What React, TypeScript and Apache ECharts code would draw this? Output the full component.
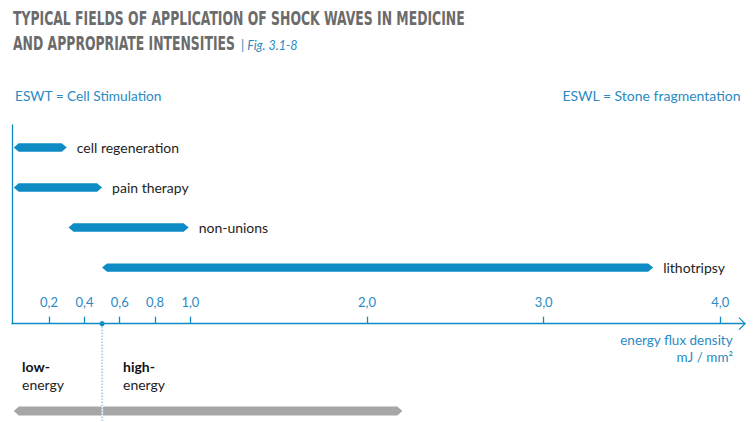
import React, { useEffect, useRef } from 'react';
import * as echarts from 'echarts';

const applications = ['cell regeneration', 'pain therapy', 'non-unions', 'lithotripsy'];
const rangeStart = [0.0, 0.0, 0.31, 0.5];
const rangeEnd = [0.3, 0.5, 0.99, 3.62];
const tickValues = [0.2, 0.4, 0.6, 0.8, 1.0, 2.0, 3.0, 4.0];
const bandNames = ['low', 'high'];
const bandStart = [0.0, 0.5];
const bandEnd = [0.5, 2.2];
const thresholdValue = [0.5];

const X_MIN = -0.01;
const X_MAX = 4.14;
const Y_MIN = -0.56;
const Y_MAX = 4.4;

const BLUE = '#0d8bc5';
const TEXT_BLUE = '#2a8ac2';
const GREY = '#a6a6a6';
const TITLE_GREY = '#6b6b6b';
const DARK = '#1e1e1e';
const SANS = 'Lato, "Open Sans", "Noto Sans", sans-serif';
const COND = '"DejaVu Sans Condensed", "Liberation Sans Narrow", sans-serif';

function hexPoints(x1: number, x2: number, cy: number, h: number, p: number, lp: boolean, rp: boolean) {
  const pts: number[][] = [];
  if (lp) pts.push([x1, cy]);
  pts.push([lp ? x1 + p : x1, cy - h]);
  pts.push([rp ? x2 - p : x2, cy - h]);
  if (rp) pts.push([x2, cy]);
  pts.push([rp ? x2 - p : x2, cy + h]);
  pts.push([lp ? x1 + p : x1, cy + h]);
  return pts;
}

export default function App() {
  const ref = useRef<HTMLDivElement>(null);
  useEffect(() => {
    document.body.style.margin = '0';
    const chart = echarts.init(ref.current!, null, { renderer: 'svg' });
    const option: any = {
      animation: false,
      grid: [
        { left: 12, width: 733, top: 125, height: 198.7 },
        { left: 12, width: 733, top: 405, height: 12 },
      ],
      xAxis: [
        {
          gridIndex: 0,
          type: 'value',
          min: X_MIN,
          max: X_MAX,
          splitLine: { show: false },
          axisLine: { show: true, onZero: false, lineStyle: { color: BLUE, width: 1.3 } },
          axisTick: {
            show: true,
            inside: true,
            length: 7,
            customValues: tickValues,
            lineStyle: { color: BLUE, width: 1.3 },
          },
          axisLabel: {
            show: true,
            inside: true,
            margin: 15,
            customValues: tickValues,
            color: TEXT_BLUE,
            fontSize: 13,
            fontFamily: SANS,
            formatter: (v: number) => v.toFixed(1).replace('.', ','),
          },
        },
        { gridIndex: 1, type: 'value', min: X_MIN, max: X_MAX, show: false },
      ],
      yAxis: [
        {
          gridIndex: 0,
          type: 'value',
          inverse: true,
          min: Y_MIN,
          max: Y_MAX,
          splitLine: { show: false },
          axisTick: { show: false },
          axisLabel: { show: false },
          axisLine: { show: true, onZero: false, lineStyle: { color: BLUE, width: 1.3 } },
        },
        { gridIndex: 1, type: 'value', min: 0, max: 1, show: false },
      ],
      series: [
        {
          type: 'custom',
          xAxisIndex: 0,
          yAxisIndex: 0,
          encode: { x: [0, 1], y: 2 },
          data: applications.map((_, i) => [rangeStart[i], rangeEnd[i], i]),
          renderItem: (params: any, api: any) => {
            const s = api.coord([api.value(0), api.value(2)]);
            const e = api.coord([api.value(1), api.value(2)]);
            const cy = s[1];
            return {
              type: 'group',
              children: [
                {
                  type: 'polygon',
                  shape: { points: hexPoints(s[0], e[0], cy, 4.2, 5, true, true) },
                  style: { fill: BLUE },
                },
                {
                  type: 'text',
                  x: e[0] + 10,
                  y: cy,
                  style: {
                    text: applications[params.dataIndex],
                    fill: DARK,
                    fontSize: 14,
                    fontFamily: SANS,
                    verticalAlign: 'middle',
                    align: 'left',
                  },
                },
              ],
            };
          },
        },
        {
          type: 'custom',
          xAxisIndex: 1,
          yAxisIndex: 1,
          encode: { x: [0, 1], y: 2 },
          data: bandNames.map((_, i) => [bandStart[i], bandEnd[i], 0.5]),
          renderItem: (params: any, api: any) => {
            const s = api.coord([api.value(0), api.value(2)]);
            const e = api.coord([api.value(1), api.value(2)]);
            const first = params.dataIndex === 0;
            const x1 = first ? s[0] : s[0] + 1;
            const x2 = first ? e[0] - 0.5 : e[0];
            return {
              type: 'polygon',
              shape: { points: hexPoints(x1, x2, s[1], 4.5, 5, first, !first) },
              style: { fill: GREY },
            };
          },
        },
        {
          type: 'custom',
          xAxisIndex: 0,
          yAxisIndex: 0,
          clip: false,
          z: 10,
          encode: { x: 0 },
          data: thresholdValue.map((v) => [v]),
          renderItem: (params: any, api: any) => {
            const p = api.coord([api.value(0), Y_MAX]);
            return {
              type: 'group',
              children: [
                {
                  type: 'line',
                  shape: { x1: p[0], y1: p[1], x2: p[0], y2: api.getHeight() },
                  style: { stroke: BLUE, lineWidth: 1, lineDash: [1, 2] },
                },
                {
                  type: 'circle',
                  shape: { cx: p[0], cy: p[1], r: 2.6 },
                  style: { fill: BLUE },
                },
              ],
            };
          },
        },
      ],
      graphic: [
        {
          type: 'text',
          x: 13,
          y: 18,
          scaleX: 0.69,
          style: {
            text: 'TYPICAL FIELDS OF APPLICATION OF SHOCK WAVES IN MEDICINE',
            fill: TITLE_GREY,
            fontSize: 20,
            fontWeight: 'bold',
            fontFamily: COND,
            verticalAlign: 'middle',
          },
        },
        {
          type: 'text',
          x: 13,
          y: 43,
          scaleX: 0.69,
          style: {
            text: 'AND APPROPRIATE INTENSITIES',
            fill: TITLE_GREY,
            fontSize: 20,
            fontWeight: 'bold',
            fontFamily: COND,
            verticalAlign: 'middle',
          },
        },
        {
          type: 'text',
          x: 241,
          y: 45,
          style: {
            text: '| Fig. 3.1-8',
            fill: TEXT_BLUE,
            fontSize: 12.5,
            fontStyle: 'italic',
            fontFamily: SANS,
            verticalAlign: 'middle',
          },
        },
        {
          type: 'text',
          left: 15,
          top: 88,
          style: { text: 'ESWT = Cell Stimulation', fill: TEXT_BLUE, fontSize: 13.7, fontFamily: SANS },
        },
        {
          type: 'text',
          right: 15,
          top: 88,
          style: { text: 'ESWL = Stone fragmentation', fill: TEXT_BLUE, fontSize: 14, fontFamily: SANS },
        },
        {
          type: 'text',
          right: 23,
          top: 333,
          style: { text: 'energy flux density', fill: TEXT_BLUE, fontSize: 13.5, fontFamily: SANS },
        },
        {
          type: 'text',
          right: 23,
          top: 350,
          style: { text: 'mJ / mm²', fill: TEXT_BLUE, fontSize: 13.5, fontFamily: SANS },
        },
        {
          type: 'text',
          left: 22,
          top: 359,
          style: { text: 'low-', fill: '#111', fontSize: 14, fontWeight: 'bold', fontFamily: SANS },
        },
        {
          type: 'text',
          left: 22,
          top: 377,
          style: { text: 'energy', fill: DARK, fontSize: 14, fontFamily: SANS },
        },
        {
          type: 'text',
          left: 123,
          top: 359,
          style: { text: 'high-', fill: '#111', fontSize: 14, fontWeight: 'bold', fontFamily: SANS },
        },
        {
          type: 'text',
          left: 123,
          top: 377,
          style: { text: 'energy', fill: DARK, fontSize: 14, fontFamily: SANS },
        },
      ],
    };
    chart.setOption(option);
    const end = chart.convertToPixel({ xAxisIndex: 0, yAxisIndex: 0 }, [X_MAX, Y_MAX]) as number[];
    chart.setOption({
      graphic: [
        ...option.graphic,
        {
          type: 'polyline',
          shape: { points: [[end[0] - 6, end[1] - 6], [end[0], end[1]], [end[0] - 6, end[1] + 6]] },
          style: { stroke: BLUE, lineWidth: 1.2, fill: 'none' },
        },
      ],
    });
    return () => chart.dispose();
  }, []);
  return <div ref={ref} style={{ width: 756, height: 422 }} />;
}
